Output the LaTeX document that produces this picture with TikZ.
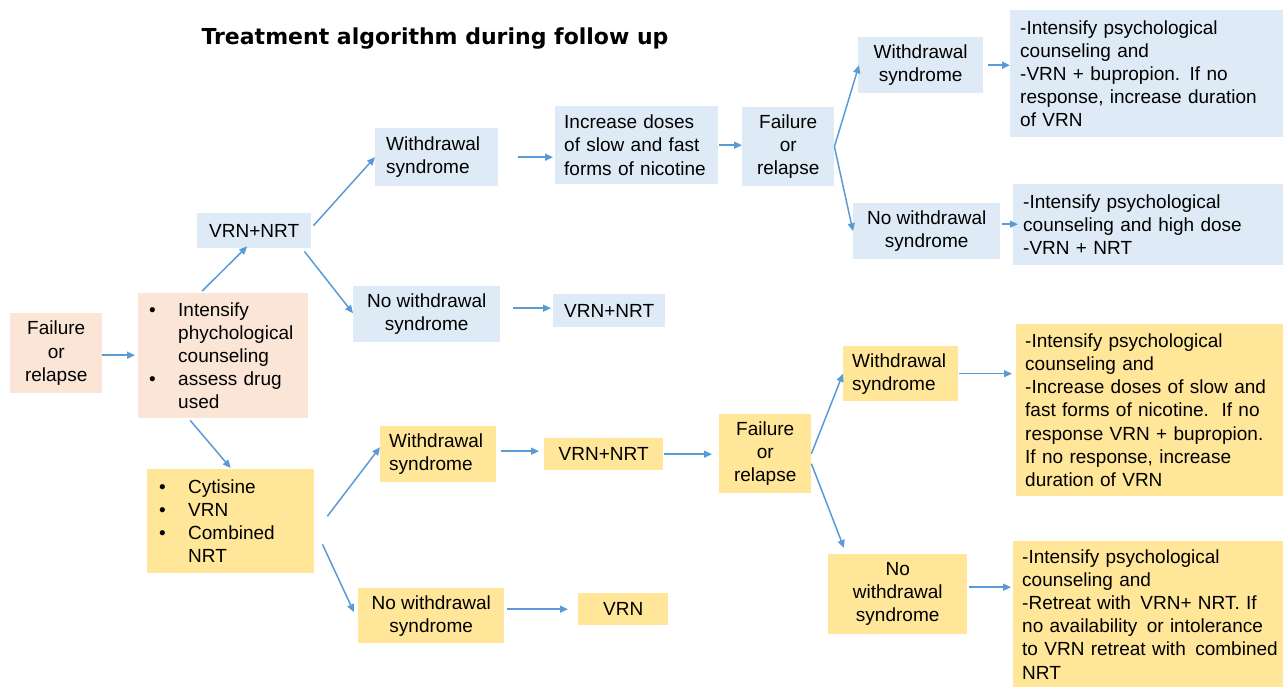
\documentclass[tikz,border=0pt]{standalone}
\usepackage{fontspec}
\setmainfont{Liberation Sans}
\newfontfamily\titlefont{DejaVu Sans}
\usetikzlibrary{arrows.meta}

\definecolor{boxblue}{HTML}{DEEBF7}
\definecolor{boxpeach}{HTML}{FBE5D6}
\definecolor{boxyellow}{HTML}{FFE699}
\definecolor{arrowblue}{HTML}{5B9BD5}

% bullet and indent for the list boxes
\newcommand{\bul}{\makebox[29pt][l]{\textbullet}}
\newcommand{\nobul}{\hspace*{29pt}}

\tikzset{
	cell/.style={anchor=north west, inner sep=0pt, font=\fontsize{19}{23.2}\selectfont},
	bluebox/.style={cell, fill=boxblue},
	peachbox/.style={cell, fill=boxpeach},
	yellowbox/.style={cell, fill=boxyellow},
	sz/.style 2 args={minimum width=#1, minimum height=#2},
	lft/.style 2 args={inner xsep=#1, text width=#2, align=left},
	ctr/.style={align=center},
	arr/.style={draw=arrowblue, line width=1.5pt, -{Triangle[length=8pt,width=7pt]}}
}

\begin{document}
\begin{tikzpicture}[x=1pt,y=-1pt]
	\useasboundingbox (0,0) rectangle (1283,687);
	% title
	\node[font=\titlefont\bfseries\fontsize{22}{26}\selectfont, anchor=base] (title) at (435,45) {Treatment algorithm during follow up};
	% start
	\node[peachbox, sz={92}{80}, ctr] (fail0) at (10,313) {Failure\\or\\relapse};
	\node[peachbox, sz={170}{125}, lft={11}{148}] (intens) at (138,293) {\bul Intensify\\\nobul phychological\\\nobul counseling\\\bul assess drug\\\nobul used};
	% blue branch
	\node[bluebox, sz={114}{35}, ctr] (vrn1) at (197,213) {VRN+NRT};
	\node[bluebox, sz={123}{58}, lft={11}{101}] (wd1) at (375,128) {Withdrawal\\syndrome};
	\node[bluebox, sz={147}{56}, ctr] (nwd1) at (353,286) {No withdrawal\\syndrome};
	\node[bluebox, sz={112}{33}, ctr] (vrn2) at (553,294) {VRN+NRT};
	\node[bluebox, sz={163}{78}, lft={9}{145}] (inc) at (555,106) {Increase doses\\of slow and fast\\forms of nicotine};
	\node[bluebox, sz={92}{79}, ctr] (fail1) at (742,107) {Failure\\or\\relapse};
	\node[bluebox, sz={125}{56}, ctr] (wd2) at (858,37) {Withdrawal\\syndrome};
	\node[bluebox, sz={147}{56}, ctr] (nwd2) at (853,203) {No withdrawal\\syndrome};
	\node[bluebox, sz={273}{127}, lft={10}{263}] (trtA) at (1010,10) {-Intensify psychological\\counseling and\\-VRN + bupropion. If no\\response, increase duration\\of VRN};
	\node[bluebox, sz={270}{81}, lft={10}{260}] (trtB) at (1013,184) {-Intensify psychological\\counseling and high dose\\-VRN + NRT};
	% yellow branch
	\node[yellowbox, sz={167}{104}, lft={12}{143}] (cyt) at (147,469) {\bul Cytisine\\\bul VRN\\\bul Combined\\\nobul NRT};
	\node[yellowbox, sz={116}{56}, lft={9}{98}] (wd3) at (380,426) {Withdrawal\\syndrome};
	\node[yellowbox, sz={146}{55}, ctr] (nwd3) at (358,588) {No withdrawal\\syndrome};
	\node[yellowbox, sz={119}{32}, ctr] (vrn3) at (544,438) {VRN+NRT};
	\node[yellowbox, sz={90}{32}, ctr] (vrn4) at (578,593) {VRN};
	\node[yellowbox, sz={92}{79}, ctr] (fail2) at (719,414) {Failure\\or\\relapse};
	\node[yellowbox, sz={115}{55}, lft={9}{97}] (wd4) at (843,346) {Withdrawal\\syndrome};
	\node[yellowbox, sz={139}{80}, ctr] (nwd4) at (828,554) {No\\withdrawal\\syndrome};
	\node[yellowbox, sz={267}{172}, lft={9}{262}] (trtC) at (1016,324) {-Intensify psychological\\counseling and\\-Increase doses of slow and\\fast forms of nicotine.\, If no\\response VRN + bupropion.\\If no response, increase\\duration of VRN};
	\node[yellowbox, sz={270}{146}, lft={9}{265}] (trtD) at (1013,541) {-Intensify psychological\\counseling and\\-Retreat with\, VRN+ NRT. If\\no availability\, or intolerance\\to VRN retreat with\, combined\\NRT};
	% arrows, start
	\draw[arr, shorten >=3pt] ([yshift=-2pt]fail0.east) -- ([yshift=-2pt]fail0.east -| intens.west);
	\draw[arr] ([xshift=-21pt,yshift=2pt]intens.north) -- ([xshift=-7pt,yshift=2pt]vrn1.south);
	\draw[arr] ([xshift=-33pt,yshift=-2pt]intens.south) -- ([yshift=1pt]cyt.north);
	% arrows, blue branch
	\draw[arr] ([xshift=2pt,yshift=5pt]vrn1.east) -- (wd1.west);
	\draw[arr] ([xshift=-7pt,yshift=-3pt]vrn1.south east) -- ([yshift=1pt]nwd1.west);
	\draw[arr, shorten <=13pt, shorten >=2pt] ([yshift=6pt]nwd1.east) -- ([yshift=6pt]nwd1.east -| vrn2.west);
	\draw[arr, shorten <=20pt, shorten >=2pt] (wd1.east) -- (wd1.east -| inc.west);
	\draw[arr, shorten <=1pt] (inc.east) -- (inc.east -| fail1.west);
	\draw[arr] (fail1.east) -- ([xshift=1pt]wd2.west);
	\draw[arr] (fail1.east) -- (nwd2.west);
	\draw[arr, shorten <=5pt] (wd2.east) -- (wd2.east -| trtA.west);
	\draw[arr, shorten <=2pt, shorten >=-5pt] ([yshift=7pt]nwd2.east) -- ([yshift=7pt]nwd2.east -| trtB.west);
	% arrows, yellow branch
	\draw[arr] ([xshift=13pt,yshift=5pt]cyt.east) -- ([yshift=7pt]wd3.west);
	\draw[arr] ([xshift=8pt,yshift=-23pt]cyt.east) -- ([xshift=-4pt,yshift=3.5pt]nwd3.west);
	\draw[arr, shorten <=5pt, shorten >=5pt] ([yshift=3pt]wd3.east) -- ([yshift=3pt]wd3.east -| vrn3.west);
	\draw[arr, shorten <=1pt, shorten >=7pt] (vrn3.east) -- (vrn3.east -| fail2.west);
	\draw[arr, shorten <=3pt, shorten >=10pt] ([yshift=6.5pt]nwd3.east) -- ([yshift=6.5pt]nwd3.east -| vrn4.west);
	\draw[arr] (fail2.east) -- (wd4.west);
	\draw[arr] ([yshift=-10pt]fail2.east) -- ([xshift=16pt,yshift=6pt]nwd4.north west);
	\draw[arr, shorten <=1pt, shorten >=4pt] (wd4.east) -- (wd4.east -| trtC.west);
	\draw[arr, shorten <=2pt, shorten >=2pt] ([yshift=7pt]nwd4.east) -- ([yshift=7pt]nwd4.east -| trtD.west);
\end{tikzpicture}
\end{document}
